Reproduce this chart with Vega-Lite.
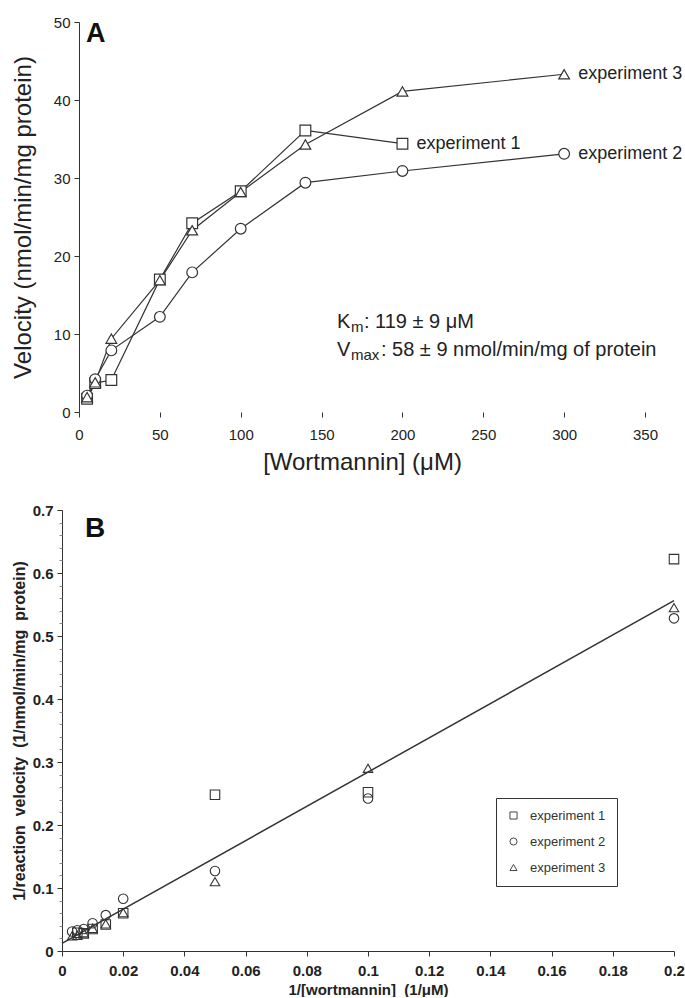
{
  "$schema": "https://vega.github.io/schema/vega-lite/v6.json",
  "padding": {"left": 11, "top": 15, "right": 0, "bottom": 0},
  "spacing": 29,
  "background": "white",
  "resolve": {"scale": {"shape": "independent"}, "legend": {"shape": "independent"}},
  "config": {
    "view": {"stroke": null},
    "font": "Liberation Sans",
    "axis": {
      "grid": false,
      "labelFont": "Liberation Sans",
      "titleFont": "Liberation Sans",
      "domainColor": "#333",
      "tickColor": "#333",
      "labelColor": "#222",
      "titleColor": "#222",
      "labelFlush": false,
      "labelOverlap": false
    }
  },
  "datasets": {
    "kinetics": [
      {"experiment": "experiment 1", "conc": 5, "velocity": 1.7},
      {"experiment": "experiment 1", "conc": 10, "velocity": 3.7},
      {"experiment": "experiment 1", "conc": 20, "velocity": 4.1},
      {"experiment": "experiment 1", "conc": 50, "velocity": 17.0},
      {"experiment": "experiment 1", "conc": 70, "velocity": 24.2},
      {"experiment": "experiment 1", "conc": 100, "velocity": 28.3},
      {"experiment": "experiment 1", "conc": 140, "velocity": 36.1},
      {"experiment": "experiment 1", "conc": 200, "velocity": 34.4},
      {"experiment": "experiment 2", "conc": 5, "velocity": 2.1},
      {"experiment": "experiment 2", "conc": 10, "velocity": 4.2},
      {"experiment": "experiment 2", "conc": 20, "velocity": 7.9},
      {"experiment": "experiment 2", "conc": 50, "velocity": 12.2},
      {"experiment": "experiment 2", "conc": 70, "velocity": 17.9},
      {"experiment": "experiment 2", "conc": 100, "velocity": 23.5},
      {"experiment": "experiment 2", "conc": 140, "velocity": 29.4},
      {"experiment": "experiment 2", "conc": 200, "velocity": 30.9},
      {"experiment": "experiment 2", "conc": 300, "velocity": 33.1},
      {"experiment": "experiment 3", "conc": 5, "velocity": 1.9},
      {"experiment": "experiment 3", "conc": 10, "velocity": 3.8},
      {"experiment": "experiment 3", "conc": 20, "velocity": 9.4},
      {"experiment": "experiment 3", "conc": 50, "velocity": 16.9},
      {"experiment": "experiment 3", "conc": 70, "velocity": 23.3},
      {"experiment": "experiment 3", "conc": 100, "velocity": 28.2},
      {"experiment": "experiment 3", "conc": 140, "velocity": 34.3},
      {"experiment": "experiment 3", "conc": 200, "velocity": 41.1},
      {"experiment": "experiment 3", "conc": 300, "velocity": 43.3}
    ],
    "reciprocal": [
      {"experiment": "experiment 1", "inv_conc": 0.2, "inv_velocity": 0.622},
      {"experiment": "experiment 1", "inv_conc": 0.1, "inv_velocity": 0.252},
      {"experiment": "experiment 1", "inv_conc": 0.05, "inv_velocity": 0.248},
      {"experiment": "experiment 1", "inv_conc": 0.02, "inv_velocity": 0.06},
      {"experiment": "experiment 1", "inv_conc": 0.0143, "inv_velocity": 0.042},
      {"experiment": "experiment 1", "inv_conc": 0.01, "inv_velocity": 0.035},
      {"experiment": "experiment 1", "inv_conc": 0.0071, "inv_velocity": 0.028},
      {"experiment": "experiment 1", "inv_conc": 0.005, "inv_velocity": 0.029},
      {"experiment": "experiment 2", "inv_conc": 0.2, "inv_velocity": 0.528},
      {"experiment": "experiment 2", "inv_conc": 0.1, "inv_velocity": 0.242},
      {"experiment": "experiment 2", "inv_conc": 0.05, "inv_velocity": 0.127},
      {"experiment": "experiment 2", "inv_conc": 0.02, "inv_velocity": 0.083},
      {"experiment": "experiment 2", "inv_conc": 0.0143, "inv_velocity": 0.057},
      {"experiment": "experiment 2", "inv_conc": 0.01, "inv_velocity": 0.044},
      {"experiment": "experiment 2", "inv_conc": 0.0071, "inv_velocity": 0.035},
      {"experiment": "experiment 2", "inv_conc": 0.005, "inv_velocity": 0.033},
      {"experiment": "experiment 2", "inv_conc": 0.0033, "inv_velocity": 0.031},
      {"experiment": "experiment 3", "inv_conc": 0.2, "inv_velocity": 0.545},
      {"experiment": "experiment 3", "inv_conc": 0.1, "inv_velocity": 0.29},
      {"experiment": "experiment 3", "inv_conc": 0.05, "inv_velocity": 0.11},
      {"experiment": "experiment 3", "inv_conc": 0.02, "inv_velocity": 0.061},
      {"experiment": "experiment 3", "inv_conc": 0.0143, "inv_velocity": 0.043},
      {"experiment": "experiment 3", "inv_conc": 0.01, "inv_velocity": 0.036},
      {"experiment": "experiment 3", "inv_conc": 0.0071, "inv_velocity": 0.029},
      {"experiment": "experiment 3", "inv_conc": 0.005, "inv_velocity": 0.025},
      {"experiment": "experiment 3", "inv_conc": 0.0033, "inv_velocity": 0.024}
    ],
    "fit": [
      {"inv_conc": 0, "inv_velocity": 0.012},
      {"inv_conc": 0.2, "inv_velocity": 0.556}
    ],
    "constants": [
      {"conc": 159.5, "velocity": 10.8, "sym": "K", "sub": "m", "rest": ": 119 ± 9 μM"},
      {"conc": 159.5, "velocity": 7.2, "sym": "V", "sub": "max", "rest": ": 58 ± 9 nmol/min/mg of protein"}
    ]
  },
  "vconcat": [
    {
      "width": 583,
      "height": 390,
      "layer": [
        {
          "mark": {"type": "rule", "color": "#333", "strokeWidth": 1},
          "encoding": {
            "x": {"datum": 0, "type": "quantitative"},
            "x2": {"datum": 350},
            "y": {"datum": 0, "type": "quantitative"}
          }
        },
        {
          "data": {"name": "kinetics"},
          "mark": {"type": "line", "color": "#333", "strokeWidth": 1.2},
          "encoding": {
            "x": {
              "field": "conc", "type": "quantitative",
              "scale": {"domain": [-10.51, 350], "nice": false, "zero": false},
              "axis": {
                "title": "[Wortmannin] (μM)",
                "domain": false,
                "values": [0, 50, 100, 150, 200, 250, 300, 350],
                "labelFontSize": 15, "titleFontSize": 24, "titleFontWeight": "normal",
                "titleX": 300, "titleAnchor": "middle",
                "tickSize": 5, "labelPadding": 10, "titlePadding": 8, "labelOverlap": false
              }
            },
            "y": {
              "field": "velocity", "type": "quantitative",
              "scale": {"domain": [0, 50], "nice": false},
              "axis": {
                "title": "Velocity (nmol/min/mg protein)",
                "values": [0, 10, 20, 30, 40, 50],
                "offset": -17,
                "labelFontSize": 15, "titleFontSize": 24, "titleFontWeight": "normal",
                "tickSize": 5, "labelPadding": 4, "titlePadding": 18, "labelOverlap": false
              }
            },
            "detail": {"field": "experiment"},
            "order": {"field": "conc"}
          }
        },
        {
          "data": {"name": "kinetics"},
          "mark": {"type": "point", "filled": true, "fill": "white", "stroke": "#333", "strokeWidth": 1.2, "size": 115, "opacity": 1},
          "encoding": {
            "x": {"field": "conc", "type": "quantitative"},
            "y": {"field": "velocity", "type": "quantitative"},
            "shape": {
              "field": "experiment", "type": "nominal",
              "scale": {"domain": ["experiment 1", "experiment 2", "experiment 3"], "range": ["square", "circle", "triangle-up"]},
              "legend": null
            }
          }
        },
        {
          "data": {"name": "kinetics"},
          "transform": [
            {"joinaggregate": [{"op": "max", "field": "conc", "as": "last"}], "groupby": ["experiment"]},
            {"filter": "datum.conc == datum.last"}
          ],
          "mark": {"type": "text", "align": "left", "baseline": "middle", "dx": 14, "fontSize": 18, "color": "#222"},
          "encoding": {
            "x": {"field": "conc", "type": "quantitative"},
            "y": {"field": "velocity", "type": "quantitative"},
            "text": {"field": "experiment"}
          }
        },
        {
          "data": {"name": "constants"},
          "mark": {"type": "text", "align": "left", "baseline": "alphabetic", "fontSize": 20, "color": "#222"},
          "encoding": {
            "x": {"field": "conc", "type": "quantitative"},
            "y": {"field": "velocity", "type": "quantitative"},
            "text": {"field": "sym"}
          }
        },
        {
          "data": {"name": "constants"},
          "mark": {"type": "text", "align": "left", "baseline": "alphabetic", "fontSize": 15, "dx": 14, "dy": 4, "color": "#222"},
          "encoding": {
            "x": {"field": "conc", "type": "quantitative"},
            "y": {"field": "velocity", "type": "quantitative"},
            "text": {"field": "sub"}
          }
        },
        {
          "data": {"name": "constants"},
          "transform": [{"filter": "datum.sym == 'K'"}],
          "mark": {"type": "text", "align": "left", "baseline": "alphabetic", "fontSize": 20, "dx": 27, "color": "#222"},
          "encoding": {
            "x": {"field": "conc", "type": "quantitative"},
            "y": {"field": "velocity", "type": "quantitative"},
            "text": {"field": "rest"}
          }
        },
        {
          "data": {"name": "constants"},
          "transform": [{"filter": "datum.sym == 'V'"}],
          "mark": {"type": "text", "align": "left", "baseline": "alphabetic", "fontSize": 20, "dx": 44, "color": "#222"},
          "encoding": {
            "x": {"field": "conc", "type": "quantitative"},
            "y": {"field": "velocity", "type": "quantitative"},
            "text": {"field": "rest"}
          }
        },
        {
          "data": {"values": [{"panel": "A", "conc": 4.3, "velocity": 47.4}]},
          "mark": {"type": "text", "align": "left", "baseline": "alphabetic", "fontSize": 27, "fontWeight": "bold", "color": "#111"},
          "encoding": {
            "x": {"field": "conc", "type": "quantitative"},
            "y": {"field": "velocity", "type": "quantitative"},
            "text": {"field": "panel"}
          }
        }
      ]
    },
    {
      "width": 612,
      "height": 441,
      "resolve": {"axis": {"y": "independent"}},
      "layer": [
        {
          "data": {"name": "fit"},
          "mark": {"type": "line", "color": "#333", "strokeWidth": 1.5},
          "encoding": {
            "x": {
              "field": "inv_conc", "type": "quantitative",
              "scale": {"domain": [0, 0.2], "nice": false},
              "axis": {
                "title": "1/[wortmannin]\u00a0 (1/μM)",
                "values": [0, 0.005, 0.01, 0.015, 0.02, 0.025, 0.03, 0.035, 0.04, 0.045, 0.05, 0.055, 0.06, 0.065, 0.07, 0.075, 0.08, 0.085, 0.09, 0.095, 0.1, 0.105, 0.11, 0.115, 0.12, 0.125, 0.13, 0.135, 0.14, 0.145, 0.15, 0.155, 0.16, 0.165, 0.17, 0.175, 0.18, 0.185, 0.19, 0.195, 0.2],
                "labelExpr": "abs(datum.value*50 - round(datum.value*50)) < 1e-6 ? format(datum.value, '~g') : ''",
                "tickSize": {"condition": {"test": "abs(datum.value*50 - round(datum.value*50)) < 1e-6", "value": 5}, "value": 3},
                "tickColor": {"condition": {"test": "abs(datum.value*50 - round(datum.value*50)) < 1e-6", "value": "#333"}, "value": "#888"},
                "labelFontSize": 15, "labelFontWeight": "bold",
                "titleFontSize": 15, "titleFontWeight": "bold",
                "labelPadding": 7, "titlePadding": 4, "labelOverlap": false
              }
            },
            "y": {
              "field": "inv_velocity", "type": "quantitative",
              "scale": {"domain": [0, 0.7], "nice": false},
              "axis": {
                "title": "1/reaction\u00a0 velocity\u00a0 (1/nmol/min/mg\u00a0 protein)",
                "orient": "left",
                "values": [0, 0.1, 0.2, 0.3, 0.4, 0.5, 0.6, 0.7],
                "format": "~g",
                "tickSize": 5,
                "labelFontSize": 15, "labelFontWeight": "bold",
                "titleFontSize": 16, "titleFontWeight": "bold",
                "labelPadding": 4, "titlePadding": 5, "labelOverlap": false
              }
            }
          }
        },
        {
          "data": {"name": "reciprocal"},
          "mark": {"type": "point", "filled": false, "stroke": "#333", "strokeWidth": 1.1, "size": 90, "opacity": 1},
          "encoding": {
            "x": {"field": "inv_conc", "type": "quantitative"},
            "y": {
              "field": "inv_velocity", "type": "quantitative",
              "axis": {
                "orient": "left",
                "title": null,
                "labels": false,
                "domain": false,
                "values": [0.02, 0.04, 0.06, 0.08, 0.12, 0.14, 0.16, 0.18, 0.22, 0.24, 0.26, 0.28, 0.32, 0.34, 0.36, 0.38, 0.42, 0.44, 0.46, 0.48, 0.52, 0.54, 0.56, 0.58, 0.62, 0.64, 0.66, 0.68],
                "tickSize": 3,
                "tickColor": "#888"
              }
            },
            "shape": {
              "field": "experiment", "type": "nominal",
              "scale": {"domain": ["experiment 1", "experiment 2", "experiment 3"], "range": ["square", "circle", "triangle-up"]},
              "legend": {
                "orient": "none", "legendX": 434, "legendY": 288,
                "title": null,
                "strokeColor": "#333", "fillColor": "white",
                "padding": 11, "rowPadding": 12,
                "labelFontSize": 13, "labelColor": "#333", "labelOffset": 10,
                "symbolSize": 50, "symbolStrokeColor": "#444", "symbolStrokeWidth": 1, "symbolFillColor": "white"
              }
            }
          }
        },
        {
          "data": {"values": [{"panel": "B", "inv_conc": 0.0075, "inv_velocity": 0.657}]},
          "mark": {"type": "text", "align": "left", "baseline": "alphabetic", "fontSize": 28, "fontWeight": "bold", "color": "#111"},
          "encoding": {
            "x": {"field": "inv_conc", "type": "quantitative"},
            "y": {"field": "inv_velocity", "type": "quantitative", "axis": null},
            "text": {"field": "panel"}
          }
        }
      ]
    }
  ]
}
